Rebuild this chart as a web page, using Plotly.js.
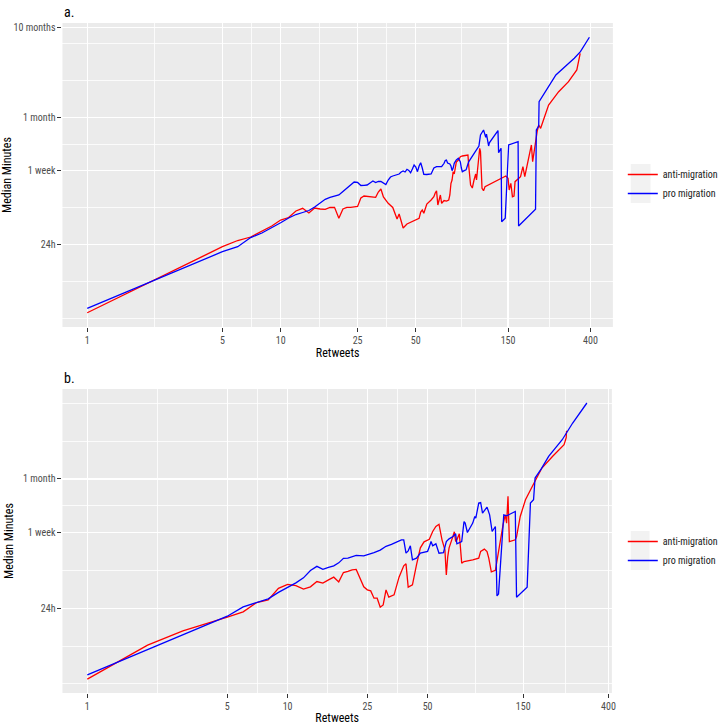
<!DOCTYPE html>
<html>
<head>
<meta charset="utf-8">
<script src="https://cdn.plot.ly/plotly-3.0.1.min.js"></script>
<style>
  html, body { margin: 0; padding: 0; background: #ffffff; }
  #chart { width: 724px; height: 727px; }
</style>
</head>
<body>
<div id="chart"></div>
<script>
// ---------- DATA ----------
const seriesNames = ["anti-migration", "pro migration"];

// x-axis: Retweets (log scale) tick labels
const xTickVals = [1, 5, 10, 25, 50, 150, 400];
const xTickText = ["1", "5", "10", "25", "50", "150", "400"];

// y-axis: Median Minutes (log scale) tick labels
const yTickValsA = [1440, 10080, 40320, 432000];
const yTickTextA = ["24h", "1 week", "1 month", "10 months"];
const yTickValsB = [1440, 10080, 40320];
const yTickTextB = ["24h", "1 week", "1 month"];

// Panel a — anti-migration
const aAntiX = [1,2,3,4,5,6,7,8,9,10,11,12,13,14,15,16,17,18,19,20,21,22,23,25,26,27,29,31,32,33,34,36,38,
  40,41,42,43,45,48,50,52,53,54,55,57,60,62,63,64,65,66,67,68,70,72,74,75,76,77,78,79,81,83,85,87,91,93,94,95,96,97,98,100,102,103,106,107,108,110,112,114,
  146,150,152,155,158,161,163,174,179,183,198,201,212,216,221,243,274,308,340,350,354];
const aAntiY = [241,504,783,1073,1366,1607,1762,2064,2353,2753,2941,3487,3745,3309,3770,3677,3648,3824,3842,2879,3677,3842,3842,
  3926,4908,5173,5104,5000,5743,6214,5040,4269,3824,
  2826,3223,2613,2232,2478,2648,2800,2879,3397,3582,3283,4192,4655,5078,5593,5943,4082,4655,5309,4269,4593,4530,4655,5309,7219,
  7871,9790,9210,12600,13306,14513,14780,15176,15176,11160,7871,6901,6630,6380,7871,9210,7871,17302,18095,16590,6330,5943,6600,
  8743,8230,6054,7219,5078,5173,7530,8590,11160,8590,19729,12760,27977,33356,30580,56370,79960,103980,141380,183810,219140];

// Panel a — pro migration
const aProX = [1,2,3,4,5,6,7,8,9,10,11,12,13,14,15,16,17,18,19,20,21,22,23,24,25,26,27,28,29,30,31,32,33,34,35,36,37,38,
  40,41,42,43,44,45,46,47,48,49,50,51,52,53,54,55,
  57,60,62,64,66,68,70,71,72,73,75,76,77,78,79,81,83,84,85,86,87,89,91,93,94,
  106,108,112,115,116,118,119,120,133,134,138,139,145,151,169,170,208,210,216,217,240,265,310,330,355,395];
const aProY = [271,514,749,979,1198,1366,1738,1957,2232,2564,2901,3181,3353,3534,3875,4303,4744,4972,5104,5309,
  5820,6380,6901,7468,7380,6815,6850,6900,7276,7666,7345,7570,7570,7276,6995,7871,8517,8743,
  9094,9210,9709,9965,9709,10424,10110,9530,10500,11669,11072,9790,11367,12396,10780,9140,
  9094,9210,10780,11160,11160,11160,12200,13134,13306,12300,11990,11367,10060,10780,12200,13306,13911,13306,12600,10780,9790,10060,10280,11990,12760,
  19216,25655,29253,24060,26220,22480,19216,20850,28770,16120,18095,2632,2879,19729,21500,2353,3648,29253,32495,61500,87410,123960,169900,192200,228550,333600];

// Panel b — anti-migration
const bAntiX = [1,2,3,4,5,6,7,8,9,10,11,12,13,14,15,16,17,18,19,20,21,22,23,24,25,26,27,28,29,30,31,32,
  34,36,38,39,40,42,44,46,48,51,53,55,57,59,61,62,63,64,67,68,69,70,72,74,76,80,84,90,92,96,
  99,101,104,109,115,119,122,124,126,128,137,139,145,154,170,186,210,240,246,247];
const bAntiY = [232,558,805,977,1146,1313,1669,1790,2406,2669,2588,2358,2502,2869,2753,2997,3213,2846,3618,3732,
  3879,3927,3074,2502,2316,2256,1870,1870,1482,1573,2316,1918,
  2035,3213,4300,4528,2484,2634,4412,6841,7983,8520,10414,11846,12535,8405,6496,3410,5422,6841,9319,10332,
  8045,8405,9813,4610,4805,4892,5019,5240,6248,6614,
  6216,5240,3684,3828,8045,12376,16015,12932,25810,8045,8405,9082,15334,23577,36273,53414,72005,97390,116660,139660];

// Panel b — pro migration
const bProX = [1,2,3,4,5,6,7,8,9,10,11,12,13,14,15,16,17,18,19,20,21,22,
  24,25,26,27,29,31,33,35,36,37,38,39,40,41,42,43,44,46,48,50,
  51,52,53,55,57,60,62,64,67,69,70,74,76,77,79,84,86,87,90,92,
  94,99,102,105,109,111,113,117,120,124,137,139,157,163,169,172,185,201,235,265,312];
const bProY = [259,494,726,951,1175,1494,1678,1837,2171,2470,2774,3155,3809,4244,3927,4136,4300,4646,5216,5240,5492,5635,
  5563,5708,5857,6058,6445,7111,7487,7881,8045,8405,8405,5963,6330,7201,5019,5151,5240,5963,6058,6248,
  7017,8045,7201,7582,5963,6058,8045,8626,9153,9813,7582,8045,13476,12932,10148,12932,15334,14710,21655,21994,
  16737,19531,16015,10414,11846,1984,2088,5963,16015,15609,17442,1918,2484,21655,23577,41263,52580,72005,110740,170430,285350];

// ---------- STYLE ----------
const FONT = "'Roboto Condensed', 'Liberation Sans Narrow', 'DejaVu Sans Condensed', 'Arial Narrow', Roboto, sans-serif";
const RED = "#FF0000", BLUE = "#0000FF";
const W = 724, H = 727;

// minor grid positions (midpoints between breaks, ggplot style)
const xMinor = [Math.sqrt(5), Math.sqrt(50), Math.sqrt(250), Math.sqrt(1250), Math.sqrt(7500), Math.sqrt(60000)];
function yMinor(breaks) {
  const b = breaks.slice();
  const r = b[1] / b[0];
  const ext = [b[0] / r].concat(b, [b[b.length - 1] * r]);
  const out = [];
  for (let i = 0; i < ext.length - 1; i++) { out.push(ext[i]); out.push(Math.sqrt(ext[i] * ext[i + 1])); }
  out.push(ext[ext.length - 1]);
  return out;
}

function xAxis(domain, range, anchor) {
  return {
    type: 'log', domain: domain, range: range, anchor: anchor,
    tickmode: 'array', tickvals: xTickVals, ticktext: xTickText,
    ticks: 'outside', ticklen: 4, tickwidth: 1, tickcolor: '#333333',
    tickfont: { family: FONT, size: 10, color: '#4D4D4D' },
    showgrid: true, gridcolor: '#FFFFFF', gridwidth: 1.2,
    minor: { tickmode: 'array', tickvals: xMinor, showgrid: true, gridcolor: '#FFFFFF', gridwidth: 0.8, ticks: '' },
    zeroline: false, showline: false, automargin: false,
    title: { text: 'Retweets', font: { family: FONT, size: 12, color: '#000000' }, standoff: 2 }
  };
}
function yAxis(domain, range, anchor, vals, text) {
  return {
    type: 'log', domain: domain, range: range, anchor: anchor,
    tickmode: 'array', tickvals: vals, ticktext: text,
    ticks: 'outside', ticklen: 4, tickwidth: 1, tickcolor: '#333333',
    tickfont: { family: FONT, size: 10, color: '#4D4D4D' },
    showgrid: true, gridcolor: '#FFFFFF', gridwidth: 1.2,
    minor: { tickmode: 'array', tickvals: yMinor(vals.slice(0, 3)), showgrid: true, gridcolor: '#FFFFFF', gridwidth: 0.8, ticks: '' },
    zeroline: false, showline: false, automargin: false,
    title: { text: 'Median Minutes', font: { family: FONT, size: 12, color: '#000000' }, standoff: 6 }
  };
}

function line(x, y, name, color, xa, ya, lg) {
  return { type: 'scatter', mode: 'lines', x: x, y: y, name: name,
    line: { color: color, width: 1.3 }, xaxis: xa, yaxis: ya, legend: lg, hoverinfo: 'skip' };
}

const data = [
  line(aAntiX, aAntiY, seriesNames[0], RED, 'x', 'y', 'legend'),
  line(aProX, aProY, seriesNames[1], BLUE, 'x', 'y', 'legend'),
  line(bAntiX, bAntiY, seriesNames[0], RED, 'x2', 'y2', 'legend2'),
  line(bProX, bProY, seriesNames[1], BLUE, 'x2', 'y2', 'legend2')
];

const legendBase = {
  xanchor: 'left', yanchor: 'top', bgcolor: 'rgba(0,0,0,0)', borderwidth: 0,
  font: { family: FONT, size: 10, color: '#1A1A1A' }, tracegroupgap: 0, itemwidth: 30
};

function keyBox(x0, x1, y0, y1) {
  return { type: 'rect', xref: 'paper', yref: 'paper', x0: x0 / W, x1: x1 / W, y0: 1 - y1 / H, y1: 1 - y0 / H,
    fillcolor: '#F2F2F2', line: { width: 0 }, layer: 'below' };
}

const layout = {
  width: W, height: H,
  margin: { l: 0, r: 0, t: 0, b: 0 },
  paper_bgcolor: '#FFFFFF', plot_bgcolor: '#EBEBEB',
  font: { family: FONT, size: 10, color: '#4D4D4D' },
  showlegend: true,
  xaxis: xAxis([63 / W, 618 / W], [-0.128, 2.718], 'y'),
  yaxis: yAxis([1 - 327 / H, 1 - 23 / H], [2.220, 5.686], 'x', yTickValsA, yTickTextA),
  xaxis2: xAxis([63 / W, 617 / W], [-0.124, 2.619], 'y2'),
  yaxis2: yAxis([1 - 693 / H, 1 - 389 / H], [2.211, 5.612], 'x2', yTickValsB, yTickTextB),
  legend: Object.assign({}, legendBase, { x: 628 / W, y: 1 - 160 / H }),
  legend2: Object.assign({}, legendBase, { x: 628 / W, y: 1 - 527 / H }),
  shapes: [keyBox(636, 656, 164, 203), keyBox(636, 655, 531, 570)],
  annotations: [
    { text: 'a.', xref: 'paper', yref: 'paper', x: 63 / W, y: 1 - 12 / H, xanchor: 'left', yanchor: 'middle',
      showarrow: false, font: { family: FONT, size: 14, color: '#000000' } },
    { text: 'b.', xref: 'paper', yref: 'paper', x: 63 / W, y: 1 - 378 / H, xanchor: 'left', yanchor: 'middle',
      showarrow: false, font: { family: FONT, size: 14, color: '#000000' } }
  ]
};

Plotly.newPlot('chart', data, layout, { displayModeBar: false, staticPlot: true });
</script>
</body>
</html>
